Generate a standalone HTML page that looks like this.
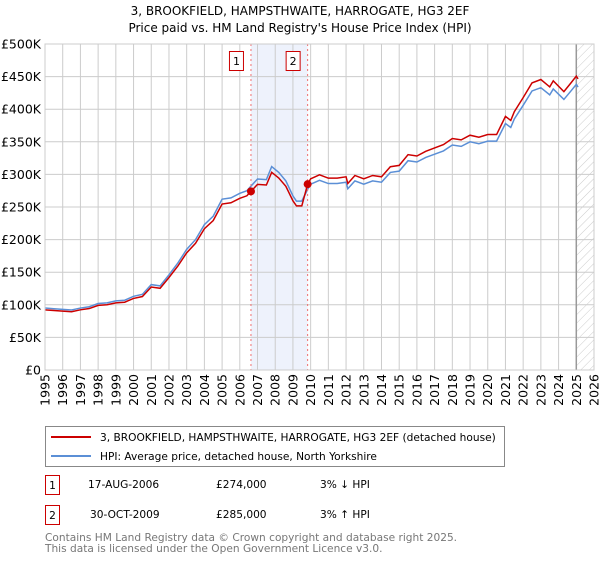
<!DOCTYPE html>
<html><head><meta charset="utf-8"><style>
body{margin:0;background:#fff;font-family:"DejaVu Sans","Liberation Sans",sans-serif;}
svg text{font-family:"DejaVu Sans","Liberation Sans",sans-serif;}
</style></head><body>
<svg id="c" width="600" height="560" xmlns="http://www.w3.org/2000/svg">
<defs><pattern id="hatch" width="6" height="6" patternUnits="userSpaceOnUse" patternTransform="rotate(45)"><line x1="0" y1="0" x2="0" y2="6" stroke="#ccc" stroke-width="1"/></pattern></defs>
<text x="300" y="15" text-anchor="middle" font-size="12">3, BROOKFIELD, HAMPSTHWAITE, HARROGATE, HG3 2EF</text>
<text x="300" y="32" text-anchor="middle" font-size="12">Price paid vs. HM Land Registry's House Price Index (HPI)</text>
<g id="plot"></g>
<rect x="45.5" y="426.5" width="459" height="40" fill="#fff" stroke="#888"/>
<line x1="51" y1="437" x2="91" y2="437" stroke="#cc0000" stroke-width="2"/>
<text x="100" y="441" font-size="10.6">3, BROOKFIELD, HAMPSTHWAITE, HARROGATE, HG3 2EF (detached house)</text>
<line x1="51" y1="456" x2="91" y2="456" stroke="#5b8fd6" stroke-width="2"/>
<text x="100" y="460" font-size="10.6">HPI: Average price, detached house, North Yorkshire</text>
<rect x="45.5" y="475.5" width="14" height="19" fill="none" stroke="#cc0000"/>
<text x="52.5" y="489" text-anchor="middle" font-size="10.6">1</text>
<text x="88" y="488" font-size="10.6">17-AUG-2006</text>
<text x="216" y="488" font-size="10.6">£274,000</text>
<text x="320" y="488" font-size="10.6">3% ↓ HPI</text>
<rect x="45.5" y="505.5" width="14" height="19" fill="none" stroke="#cc0000"/>
<text x="52.5" y="519" text-anchor="middle" font-size="10.6">2</text>
<text x="90" y="518" font-size="10.6">30-OCT-2009</text>
<text x="216" y="518" font-size="10.6">£285,000</text>
<text x="320" y="518" font-size="10.6">3% ↑ HPI</text>
<text x="45" y="541" font-size="10.6" fill="#777">Contains HM Land Registry data © Crown copyright and database right 2025.</text>
<text x="45" y="552" font-size="10.6" fill="#777">This data is licensed under the Open Government Licence v3.0.</text>
</svg>
<script>
const hpiYears=[1995,1995.5,1996,1996.5,1997,1997.5,1998,1998.5,1999,1999.5,2000,2000.5,2001,2001.5,2002,2002.5,2003,2003.5,2004,2004.5,2005,2005.5,2006,2006.4,2006.63,2007,2007.5,2007.8,2008.2,2008.6,2009,2009.2,2009.5,2009.83,2010,2010.5,2011,2011.5,2012,2012.1,2012.5,2013,2013.5,2014,2014.5,2015,2015.5,2016,2016.5,2017,2017.5,2018,2018.5,2019,2019.5,2020,2020.5,2021,2021.3,2021.5,2022,2022.5,2023,2023.5,2023.7,2024,2024.3,2024.7,2025,2025.1];
const hpiValues=[95,94,93,92,95,97,102,103,106,107,113,116,131,129,146,164,185,200,223,236,262,264,271,275,282,293,292,312,303,290,267,259,259,277,285,291,286,286,288,278,290,285,290,288,303,305,321,319,326,331,336,345,343,350,347,351,351,378,372,385,406,428,433,422,431,423,415,428,438,434];
const saleDates=[2006.63,2009.83];
const salePrices=[274,285];
const yTicks=[0,50,100,150,200,250,300,350,400,450,500];
const yTickLabels=["£0","£50K","£100K","£150K","£200K","£250K","£300K","£350K","£400K","£450K","£500K"];
const xTicks=[1995,1996,1997,1998,1999,2000,2001,2002,2003,2004,2005,2006,2007,2008,2009,2010,2011,2012,2013,2014,2015,2016,2017,2018,2019,2020,2021,2022,2023,2024,2025,2026];

const X0=45,X1=594,Y0=370,Y1=44;
const xs=t=>X0+(t-1995)/(2026-1995)*(X1-X0);
const ys=v=>Y0-v/500*(Y0-Y1);
const NS="http://www.w3.org/2000/svg";
const g=document.getElementById('plot');
function mk(tag,at){const e=document.createElementNS(NS,tag);for(const k in at)e.setAttribute(k,at[k]);g.appendChild(e);return e;}
function hpiAt(t){for(let i=1;i<hpiYears.length;i++){if(t<=hpiYears[i]){const f=(t-hpiYears[i-1])/(hpiYears[i]-hpiYears[i-1]);return hpiValues[i-1]+f*(hpiValues[i]-hpiValues[i-1]);}}return hpiValues[hpiValues.length-1];}

let e=mk('rect',{x:X0,y:Y1,width:X1-X0,height:Y0-Y1,fill:'#fff'});


e=mk('rect',{x:xs(saleDates[0]),y:Y1,width:xs(saleDates[1])-xs(saleDates[0]),height:Y0-Y1,fill:'#eef2fc'});


e=mk('rect',{x:xs(2025),y:Y1,width:X1-xs(2025),height:Y0-Y1,fill:'url(#hatch)'});


yTicks.forEach((v,i)=>{
  let l=mk('line',{x1:X0,x2:X1,y1:ys(v),y2:ys(v),stroke:'#ccc'});
  
  
  let t=mk('text',{x:X0-4,y:ys(v)+4.5,'text-anchor':'end','font-size':'12.5'});
  t.textContent=yTickLabels[i];
  
  
});
xTicks.forEach(y=>{
  let l=mk('line',{x1:xs(y),x2:xs(y),y1:Y1,y2:Y0,stroke:'#ccc'});
  
  
  let t=mk('text',{x:0,y:0,'text-anchor':'end','font-size':'12.5',transform:`translate(${xs(y)+4.5},${Y0+4}) rotate(-90)`});
  t.textContent=y;
  
  
});
e=mk('line',{x1:xs(2025),x2:xs(2025),y1:Y1,y2:Y0,stroke:'#999','stroke-width':1.5});


const r0=salePrices[0]/hpiAt(saleDates[0]);
const r1=salePrices[1]/hpiAt(saleDates[1]);
let redPts=[],bluePts=[];
hpiYears.forEach((t,i)=>{
  const v=hpiValues[i];
  bluePts.push(xs(t)+','+ys(v));
  const r=(t<saleDates[1])?v*r0:v*r1;
  redPts.push(xs(t)+','+ys(r));
});
e=mk('polyline',{points:bluePts.join(' '),fill:'none',stroke:'#5b8fd6','stroke-width':1.5});


e=mk('polyline',{points:redPts.join(' '),fill:'none',stroke:'#cc0000','stroke-width':1.5});


saleDates.forEach((d,i)=>{
  let l=mk('line',{x1:xs(d),x2:xs(d),y1:Y1,y2:Y0,stroke:'#f07070','stroke-dasharray':'2,3'});
  
  
  let c=mk('circle',{cx:xs(d),cy:ys(salePrices[i]),r:4,fill:'#cc0000'});
  
  
  let b=mk('rect',{x:xs(d)-21.5,y:51.5,width:14,height:19,fill:'#fff',stroke:'#cc0000'});
  
  
  let t=mk('text',{x:xs(d)-14.5,y:65,'text-anchor':'middle','font-size':'11'});
  t.textContent=String(i+1);
  
  
});
e=mk('rect',{x:X0,y:Y1,width:X1-X0,height:Y0-Y1,fill:'none',stroke:'#ccc'});


</script>
</body></html>
